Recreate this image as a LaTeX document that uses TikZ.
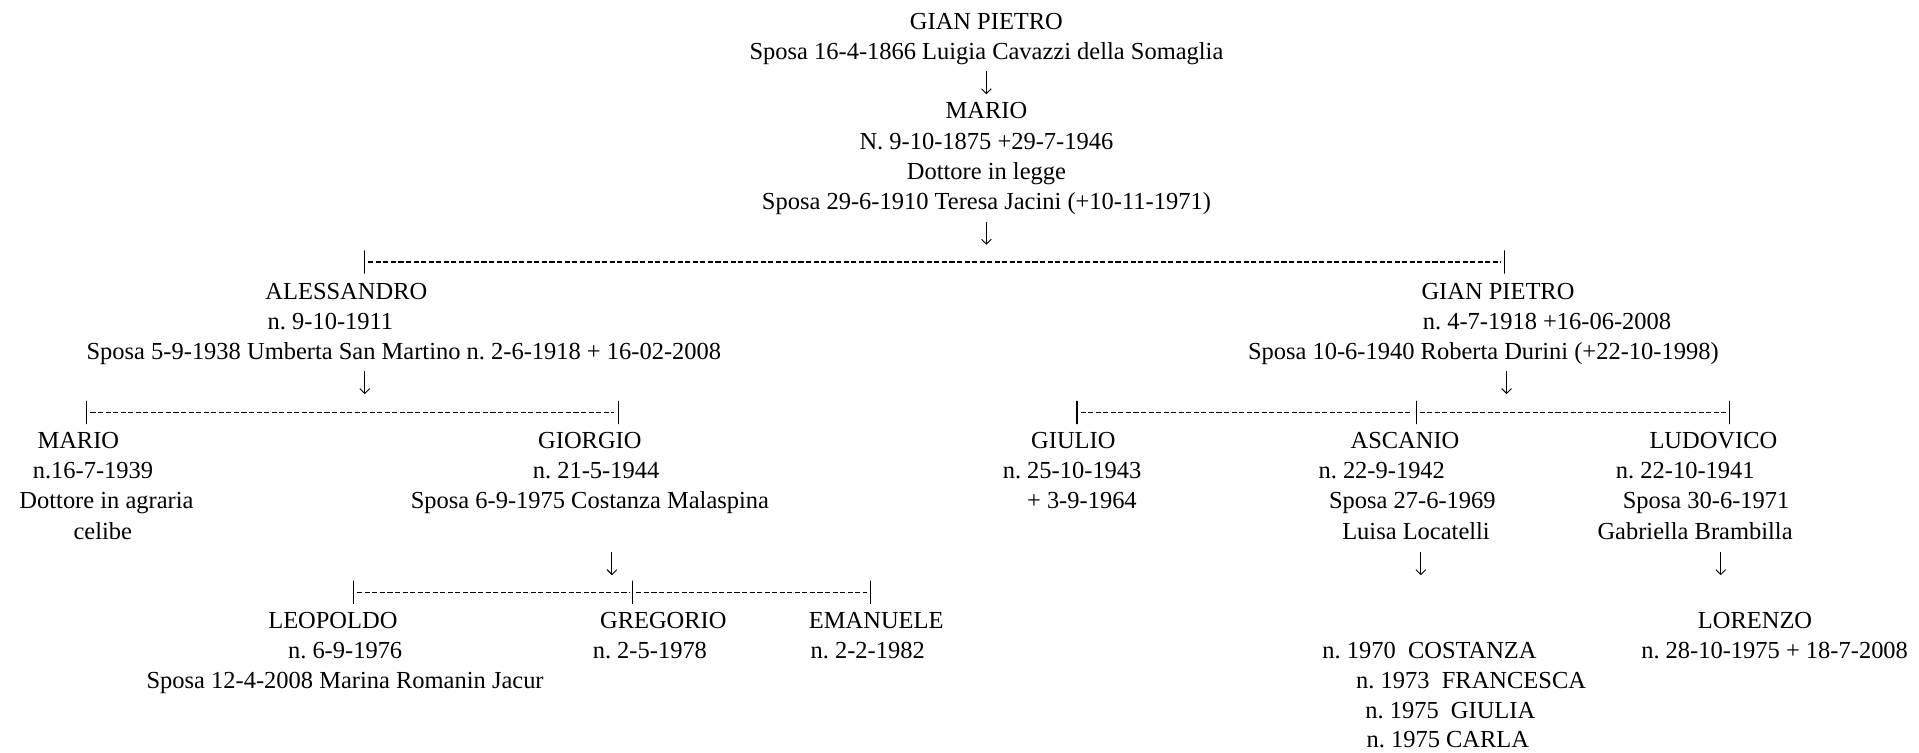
\documentclass[tikz,border=0pt]{standalone}
\usepackage{fontspec}
\setmainfont{Liberation Serif}
\usetikzlibrary{arrows.meta}
\frenchspacing
\begin{document}
\begin{tikzpicture}[x=0.6pt,y=-0.6pt,
  txt/.style={inner sep=0pt, text height=9pt, text depth=2pt, font=\fontsize{12}{14}\selectfont},
  tick/.style={draw, line width=0.5pt, inner sep=0pt, minimum width=0pt, minimum height=11.4pt},
  link/.style={line width=0.6pt, dash pattern=on 2.5pt off 1.2pt, shorten <=1.5pt, shorten >=1.5pt},
  arr/.style={line width=0.45pt, -{Straight Barb[length=2.4pt,width=4.8pt]}}]
\useasboundingbox (0,0) rectangle (1568,615);
% Gian Pietro e Mario
\node[txt] (gp0) at (806,18){GIAN PIETRO};
\node[txt] (gp1) at (806,43){Sposa 16-4-1866 Luigia Cavazzi della Somaglia};
\coordinate (d1a) at (806,58);
\coordinate (d1b) at (806,77);
\draw[arr](d1a) -- (d1b);
\node[txt] (ma0) at (806,91){MARIO};
\node[txt] (ma1) at (806,116){N. 9-10-1875 +29-7-1946};
\node[txt] (ma2) at (806,141){Dottore in legge};
\node[txt] (ma3) at (806,165){Sposa 29-6-1910 Teresa Jacini (+10-11-1971)};
\coordinate (d2a) at (806,181);
\coordinate (d2b) at (806,200);
\draw[arr](d2a) -- (d2b);
\node[tick] (k1a) at (298,214){};
\node[tick] (k1b) at (1229,214){};
\draw[link](k1a) -- (k1b);

% Alessandro
\node[txt] (al0) at (283,239){ALESSANDRO};
\node[txt] (al1) at (270,263){n. 9-10-1911};
\node[txt] (al2) at (330,288){Sposa 5-9-1938 Umberta San Martino n. 2-6-1918 + 16-02-2008};
\coordinate (d3a) at (298,303);
\coordinate (d3b) at (298,322);
\draw[arr](d3a) -- (d3b);
\node[tick] (k2a) at (71,337){};
\node[tick] (k2b) at (505,337){};
\draw[link](k2a) -- (k2b);
\node[txt] (mr0) at (64,361){MARIO};
\node[txt] (mr1) at (76,385){n.16-7-1939};
\node[txt] (mr2) at (87,410){Dottore in agraria};
\node[txt] (mr3) at (84,435){celibe};
\node[txt] (gi0) at (482,361){GIORGIO};
\node[txt] (gi1) at (487,385){n. 21-5-1944};
\node[txt] (gi2) at (482,410){Sposa 6-9-1975 Costanza Malaspina};
\coordinate (d4a) at (500,451);
\coordinate (d4b) at (500,470);
\draw[arr](d4a) -- (d4b);
\node[tick] (k3a) at (289,484){};
\node[tick] (k3b) at (517,484){};
\node[tick] (k3c) at (711,484){};
\draw[link](k3a) -- (k3b);
\draw[link](k3b) -- (k3c);
\node[txt] (le0) at (272,508){LEOPOLDO};
\node[txt] (le1) at (282,532){n. 6-9-1976};
\node[txt] (le2) at (282,557){Sposa 12-4-2008 Marina Romanin Jacur};
\node[txt] (gr0) at (542,508){GREGORIO};
\node[txt] (gr1) at (531,532){n. 2-5-1978};
\node[txt] (em0) at (716,508){EMANUELE};
\node[txt] (em1) at (709,532){n. 2-2-1982};

% Gian Pietro
\node[txt] (gj0) at (1224,239){GIAN PIETRO};
\node[txt] (gj1) at (1264,263){n. 4-7-1918 +16-06-2008};
\node[txt] (gj2) at (1212,288){Sposa 10-6-1940 Roberta Durini (+22-10-1998)};
\coordinate (d5a) at (1231,303);
\coordinate (d5b) at (1231,322);
\draw[arr](d5a) -- (d5b);
\node[tick] (k4a) at (880,337){};
\node[tick] (k4b) at (1157,337){};
\node[tick] (k4c) at (1413,337){};
\draw[link](k4a) -- (k4b);
\draw[link](k4b) -- (k4c);
\node[txt] (gu0) at (877,361){GIULIO};
\node[txt] (gu1) at (876,385){n. 25-10-1943};
\node[txt] (gu2) at (884,410){+ 3-9-1964};
\node[txt] (as0) at (1148,361){ASCANIO};
\node[txt] (as1) at (1129,385){n. 22-9-1942};
\node[txt] (as2) at (1154,410){Sposa 27-6-1969};
\node[txt] (as3) at (1157,435){Luisa Locatelli};
\coordinate (d6a) at (1161,451);
\coordinate (d6b) at (1161,470);
\draw[arr](d6a) -- (d6b);
\node[txt] (lu0) at (1400,361){LUDOVICO};
\node[txt] (lu1) at (1377,385){n. 22-10-1941};
\node[txt] (lu2) at (1394,410){Sposa 30-6-1971};
\node[txt] (lu3) at (1385,435){Gabriella Brambilla};
\coordinate (d7a) at (1406,451);
\coordinate (d7b) at (1406,470);
\draw[arr](d7a) -- (d7b);
\node[txt] (co0) at (1168,532){n. 1970~ COSTANZA};
\node[txt] (fr0) at (1202,557){n. 1973~ FRANCESCA};
\node[txt] (gl0) at (1185,581){n. 1975~ GIULIA};
\node[txt] (ca0) at (1183,605){n. 1975 CARLA};
\node[txt] (lo0) at (1434,508){LORENZO};
\node[txt] (lo1) at (1450,532){n. 28-10-1975 + 18-7-2008};

\end{tikzpicture}
\end{document}
